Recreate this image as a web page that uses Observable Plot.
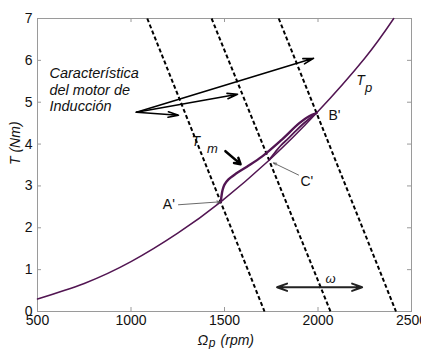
<!DOCTYPE html>
<html><head><meta charset="utf-8">
<script src="https://cdn.jsdelivr.net/npm/d3@7"></script>
<script src="https://cdn.jsdelivr.net/npm/@observablehq/plot@0.6"></script>
<style>body{margin:0;background:#fff}</style>
</head><body><div id="chart"></div>
<script>
// Axis ticks
const xTicks = [500, 1000, 1500, 2000, 2500];
const yTicks = [0, 1, 2, 3, 4, 5, 6, 7];
// Load characteristic T_p (speed rpm, torque Nm)
const tpSpeed  = [500, 750, 1000, 1250, 1480, 1740, 1992, 2250, 2405];
const tpTorque = [0.30, 0.67, 1.19, 1.87, 2.62, 3.62, 4.74, 6.05, 7.0];
// Motor trajectory T_m: rising branch A' -> B'
const tmUpSpeed  = [1480, 1484, 1490, 1500, 1520, 1560, 1620, 1700, 1800, 1900, 1950, 1992];
const tmUpTorque = [2.62, 2.76, 2.91, 3.03, 3.15, 3.29, 3.46, 3.70, 4.08, 4.50, 4.66, 4.74];
// Return branch B' -> C'
const tmBackSpeed  = [1992, 1960, 1920, 1880, 1840, 1800, 1770, 1740];
const tmBackTorque = [4.74, 4.63, 4.48, 4.31, 4.13, 3.96, 3.80, 3.63];
// Induction motor characteristics (dashed): speed at T=7 and at T=0
const motorTopSpeed    = [1087, 1431, 1790];
const motorBottomSpeed = [1714, 2067, 2417];
// Annotation text
const noteLines = ["Característica", "del motor de", "Inducción"];

const tp = tpSpeed.map((s, i) => ({s, t: tpTorque[i]}));
const tmUp = tmUpSpeed.map((s, i) => ({s, t: tmUpTorque[i]}));
const tmBack = tmBackSpeed.map((s, i) => ({s, t: tmBackTorque[i]}));
const motors = motorTopSpeed.map((s, i) => ({top: s, bottom: motorBottomSpeed[i]}));

const purple = "#521552";
const grey = "#9a9a9a";
const font = "'Liberation Sans', Arial, sans-serif";

const chart = Plot.plot({
  width: 421, height: 349,
  marginLeft: 37, marginRight: 10, marginTop: 18, marginBottom: 38,
  x: {domain: [500, 2500]},
  y: {domain: [0, 7]},
  style: {fontFamily: font, fontSize: "14px", background: "white", color: "#111"},
  marks: [
    Plot.frame({stroke: grey}),
    Plot.ruleX(xTicks, {insetTop: 289, stroke: grey}),
    Plot.ruleX(xTicks, {insetBottom: 289, stroke: grey}),
    Plot.ruleY(yTicks, {insetRight: 370, stroke: grey}),
    Plot.ruleY(yTicks, {insetLeft: 370, stroke: grey}),
    Plot.axisX({ticks: xTicks, tickSize: 0, tickPadding: 4, label: null, fontSize: 14, tickFormat: d => String(d)}),
    Plot.axisY({ticks: yTicks, tickSize: 0, tickPadding: 5, label: null, fontSize: 14, tickFormat: d => String(d)}),
    // dashed motor characteristics
    Plot.link(motors, {x1: "top", y1: 7, x2: "bottom", y2: 0, stroke: "black", strokeWidth: 2, strokeDasharray: "4,2.5"}),
    // load curve
    Plot.line(tp, {x: "s", y: "t", curve: "natural", stroke: purple, strokeWidth: 1.5}),
    // motor trajectory
    Plot.line(tmUp, {x: "s", y: "t", curve: "catmull-rom", stroke: purple, strokeWidth: 2.4}),
    Plot.line(tmBack, {x: "s", y: "t", curve: "catmull-rom", stroke: purple, strokeWidth: 1.8}),
    // annotation arrows
    Plot.arrow([1254, 1570, 1976].map((x, i) => ({x, y: [4.69, 5.19, 6.05][i]})),
      {x1: 1029, y1: 4.76, x2: "x", y2: "y", stroke: "black", strokeWidth: 1.6, headLength: 10, headAngle: 30}),
    Plot.arrow([{}], {x1: 1505, y1: 3.83, x2: 1586, y2: 3.52, stroke: "black", strokeWidth: 2.5, headLength: 7, headAngle: 60}),
    Plot.arrow([{}], {x1: 1254, y1: 2.55, x2: 1476, y2: 2.62, stroke: "#444", strokeWidth: 0.8, headLength: 6, headAngle: 40}),
    Plot.arrow([{}], {x1: 1896, y1: 3.26, x2: 1762, y2: 3.55, stroke: "#444", strokeWidth: 0.8, headLength: 6, headAngle: 40}),
    Plot.arrow([1781, 2236], {x1: 2008, y1: 0.58, x2: d => d, y2: 0.58, stroke: "#222", strokeWidth: 2, headLength: 8, headAngle: 40}),
    // texts
    Plot.text(noteLines, {x: 564, y: (d, i) => [5.57, 5.18, 4.78][i], text: d => d, textAnchor: "start", lineAnchor: "bottom", fontStyle: "italic", fontSize: 14.5}),
    Plot.text(["A'"], {x: 1170, y: 2.45, textAnchor: "start", lineAnchor: "bottom", fontSize: 14}),
    Plot.text(["B'"], {x: 2056, y: 4.57, textAnchor: "start", lineAnchor: "bottom", fontSize: 14}),
    Plot.text(["C'"], {x: 1906, y: 3.0, textAnchor: "start", lineAnchor: "bottom", fontSize: 14}),
    Plot.text(["T"], {x: 1323, y: 3.95, textAnchor: "start", lineAnchor: "bottom", fontStyle: "italic", fontSize: 14}),
    Plot.text(["m"], {x: 1407, y: 3.79, textAnchor: "start", lineAnchor: "bottom", fontStyle: "italic", fontSize: 13}),
    Plot.text(["T"], {x: 2204, y: 5.40, textAnchor: "start", lineAnchor: "bottom", fontStyle: "italic", fontSize: 14}),
    Plot.text(["p"], {x: 2252, y: 5.24, textAnchor: "start", lineAnchor: "bottom", fontStyle: "italic", fontSize: 13}),
    Plot.text(["ω"], {x: 2040, y: 0.69, textAnchor: "start", lineAnchor: "bottom", fontStyle: "italic", fontSize: 13}),
    // axis titles
    Plot.text(["T (Nm)"], {frameAnchor: "left", dx: -22, rotate: -90, fontStyle: "italic", fontSize: 14}),
    Plot.text(["Ω"], {x: 1356, frameAnchor: "bottom", dy: 33, textAnchor: "start", lineAnchor: "bottom", fontStyle: "italic", fontSize: 14}),
    Plot.text(["p"], {x: 1416, frameAnchor: "bottom", dy: 35, textAnchor: "start", lineAnchor: "bottom", fontStyle: "italic", fontSize: 12}),
    Plot.text(["(rpm)"], {x: 1479, frameAnchor: "bottom", dy: 33, textAnchor: "start", lineAnchor: "bottom", fontStyle: "italic", fontSize: 14})
  ]
});
document.getElementById("chart").append(chart);
</script>
</body></html>
